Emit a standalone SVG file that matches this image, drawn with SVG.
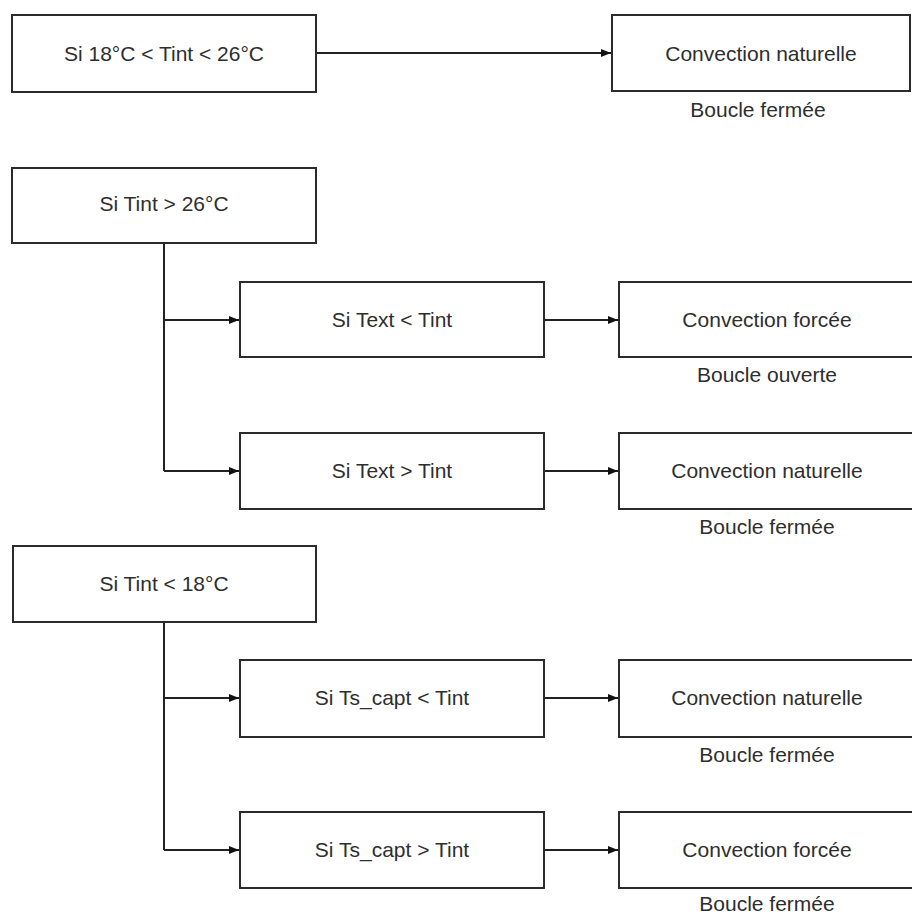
<svg xmlns="http://www.w3.org/2000/svg" width="912" height="914" viewBox="0 0 912 914">
<style>
.box{fill:#fff;stroke:#2b2b2b;stroke-width:2}
.t{font-family:"Liberation Sans",Arial,sans-serif;font-size:21px;fill:#2e2e2e;text-anchor:middle}
.c{fill:none;stroke:#222;stroke-width:2;marker-end:url(#ah)}
.l{fill:none;stroke:#222;stroke-width:2}
</style>
<defs>
<marker id="ah" viewBox="0 0 10 8" refX="10" refY="4" markerWidth="10" markerHeight="8" markerUnits="userSpaceOnUse" orient="auto">
<path d="M0,0 L10,4 L0,8 Z" fill="#111"/>
</marker>
</defs>
<rect width="912" height="914" fill="#fff"/>
<g id="connectors">
<path class="c" d="M316,53 H611"/>
<path class="l" d="M164,243 V471"/>
<path class="c" d="M164,320 H239"/>
<path class="c" d="M164,471 H239"/>
<path class="c" d="M544,320 H618"/>
<path class="c" d="M544,471 H618"/>
<path class="l" d="M164,622 V850"/>
<path class="c" d="M164,698 H239"/>
<path class="c" d="M164,850 H239"/>
<path class="c" d="M544,698 H618"/>
<path class="c" d="M544,850 H618"/>
</g>
<g id="n1"><rect class="box" x="12" y="15" width="304" height="77"/><text class="t" x="164" y="61">Si 18°C &lt; Tint &lt; 26°C</text></g>
<g id="n2"><rect class="box" x="612" y="15" width="298" height="76"/><text class="t" x="761" y="61">Convection naturelle</text><text class="t" x="758" y="117">Boucle fermée</text></g>
<g id="n3"><rect class="box" x="12" y="168" width="304" height="75"/><text class="t" x="164" y="211">Si Tint &gt; 26°C</text></g>
<g id="n4"><rect class="box" x="240" y="282" width="304" height="75"/><text class="t" x="392" y="327">Si Text &lt; Tint</text></g>
<g id="n5"><rect class="box" x="619" y="282" width="300" height="75"/><text class="t" x="767" y="327">Convection forcée</text><text class="t" x="767" y="382">Boucle ouverte</text></g>
<g id="n6"><rect class="box" x="240" y="433" width="304" height="76"/><text class="t" x="392" y="478">Si Text &gt; Tint</text></g>
<g id="n7"><rect class="box" x="619" y="433" width="300" height="76"/><text class="t" x="767" y="478">Convection naturelle</text><text class="t" x="767" y="534">Boucle fermée</text></g>
<g id="n8"><rect class="box" x="13" y="546" width="303" height="76"/><text class="t" x="164" y="591">Si Tint &lt; 18°C</text></g>
<g id="n9"><rect class="box" x="240" y="660" width="304" height="77"/><text class="t" x="392" y="705">Si Ts_capt &lt; Tint</text></g>
<g id="n10"><rect class="box" x="619" y="660" width="300" height="77"/><text class="t" x="767" y="705">Convection naturelle</text><text class="t" x="767" y="762">Boucle fermée</text></g>
<g id="n11"><rect class="box" x="240" y="812" width="304" height="76"/><text class="t" x="392" y="857">Si Ts_capt &gt; Tint</text></g>
<g id="n12"><rect class="box" x="619" y="812" width="300" height="76"/><text class="t" x="767" y="857">Convection forcée</text><text class="t" x="767" y="911">Boucle fermée</text></g>
</svg>
